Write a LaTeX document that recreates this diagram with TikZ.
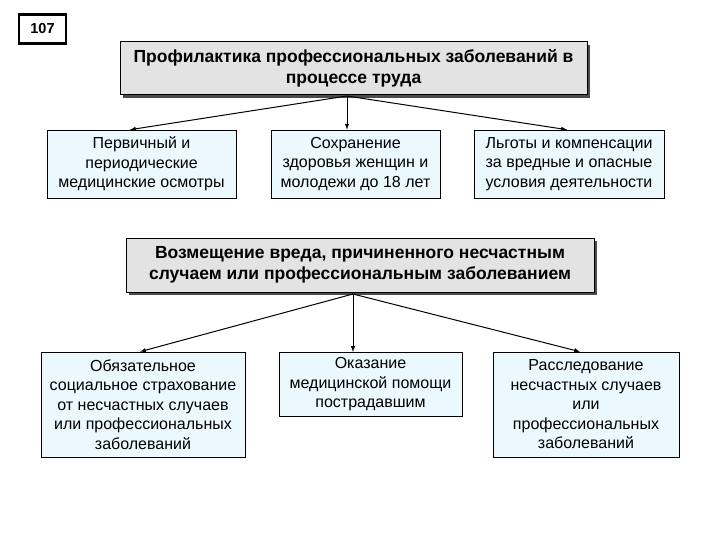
\documentclass[tikz,border=0pt]{standalone}
\usepackage{fontspec}
\setmainfont{Liberation Sans}
\usetikzlibrary{shadows}
\begin{document}
\begin{tikzpicture}[x=1pt,y=-1pt,
 gbox/.style={draw,line width=1pt,fill=gray!22,align=center,font=\fontsize{17.5}{21}\selectfont\bfseries,inner sep=0pt,drop shadow={shadow xshift=3pt,shadow yshift=-3pt,fill=black!70,opacity=1}},
 cbox/.style={draw,line width=0.6pt,fill=cyan!8,align=center,font=\fontsize{16}{19.5}\selectfont,inner sep=0pt},
 arr/.style={-latex,line width=1pt}]
\useasboundingbox (0,0) rectangle (720,540);
\node[draw,line width=2.5pt,minimum width=47pt,minimum height=29pt,font=\fontsize{14.5}{16}\selectfont\bfseries] (n107) at (42.5,29) {107};
\node[gbox,minimum width=467pt,minimum height=53pt] (t1) at (353.5,68.5) {Профилактика профессиональных заболеваний в\\процессе труда};
\node[cbox,minimum width=189pt,minimum height=68pt] (a1) at (141.5,164) {Первичный и\\периодические\\медицинские осмотры};
\node[cbox,minimum width=169pt,minimum height=68pt] (a2) at (355.5,164) {Сохранение\\здоровья женщин и\\молодежи до 18 лет};
\node[cbox,minimum width=190pt,minimum height=68pt] (a3) at (569,164) {Льготы и компенсации\\за вредные и опасные\\условия деятельности};
\node[gbox,minimum width=468pt,minimum height=54pt] (t2) at (360,265) {Возмещение вреда, причиненного несчастным\\случаем или профессиональным заболеванием};
\node[cbox,minimum width=204pt,minimum height=105pt] (b1) at (143,404.5) {Обязательное\\социальное страхование\\от несчастных случаев\\или профессиональных\\заболеваний};
\node[cbox,minimum width=183pt,minimum height=64pt,anchor=north] (b2) at (370.5,352) {Оказание\\медицинской помощи\\пострадавшим};
\node[cbox,minimum width=186pt,minimum height=105pt] (b3) at (586,404.5) {Расследование\\несчастных случаев\\или\\профессиональных\\заболеваний};
\coordinate (c1) at (347,96);
\draw[arr] (c1) -- (a1.north -| 130,0);
\draw[arr] (c1) -- (a2.north -| 347,0);
\draw[arr] (c1) -- (a3.north -| 567,0);
\coordinate (c2) at (353,294);
\draw[arr] (c2) -- (b1.north -| 140,0);
\draw[arr] (c2) -- (b2.north -| 353,0);
\draw[arr] (c2) -- (b3.north -| 580,0);
\end{tikzpicture}
\end{document}
